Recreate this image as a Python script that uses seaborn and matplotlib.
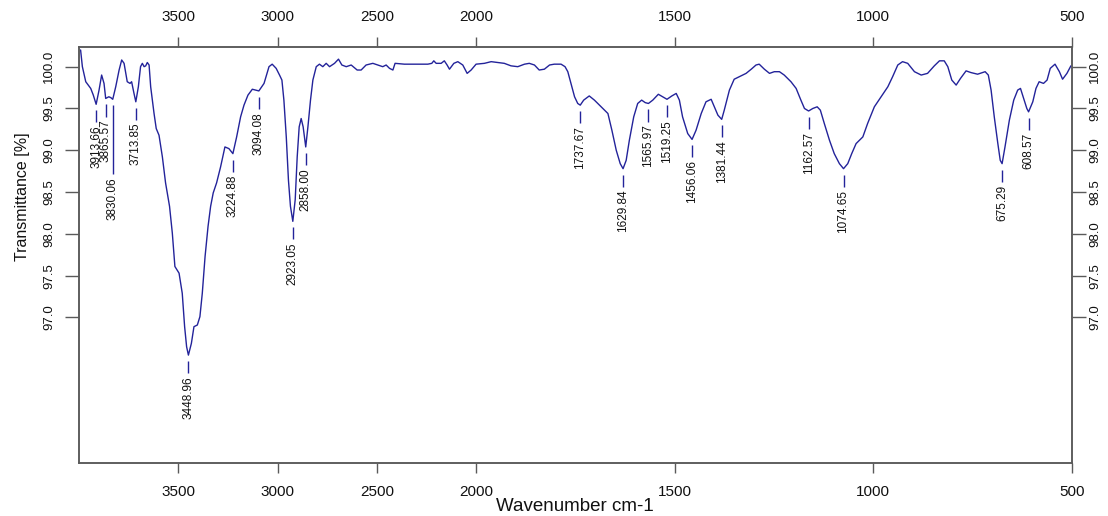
import numpy as np
import pandas as pd
import seaborn as sns
import matplotlib.pyplot as plt
from matplotlib import font_manager

# spectrum (wavenumber cm-1, transmittance %)
wavenumber = [3992, 3983, 3966, 3941, 3928, 3913.66, 3899, 3886, 3874, 3865.57,
              3850, 3840, 3830.06, 3815, 3798, 3785, 3773, 3757, 3743, 3735,
              3723, 3713.85, 3701, 3690, 3681, 3672, 3664, 3656, 3647, 3639,
              3622, 3611, 3597, 3580, 3564, 3544, 3530, 3517, 3496, 3480,
              3468, 3458, 3448.96, 3434, 3421, 3404, 3391, 3379, 3365, 3350,
              3337, 3324, 3307, 3287, 3265, 3245, 3224.88, 3206, 3186, 3169,
              3149, 3127, 3094.08, 3068, 3043, 3027, 3007, 2990, 2978, 2968,
              2956, 2945, 2935, 2923.05, 2911, 2901, 2891, 2881, 2871, 2858.00,
              2847, 2834, 2822, 2805, 2789, 2772, 2755, 2738, 2713, 2693,
              2676, 2654, 2629, 2599, 2579, 2554, 2520, 2495, 2470, 2453,
              2436, 2419, 2408, 2361, 2310, 2243, 2223, 2213, 2201, 2176,
              2160, 2146, 2134, 2112, 2092, 2067, 2045, 2025, 2000, 1979,
              1962, 1945, 1929, 1912, 1895, 1878, 1866, 1853, 1841, 1828,
              1815, 1803, 1786, 1776, 1769, 1761, 1752, 1744, 1737.67, 1729,
              1715, 1702, 1685, 1668, 1658, 1647, 1637, 1629.84, 1622, 1614,
              1603, 1593, 1583, 1574, 1565.97, 1555, 1541, 1530, 1519.25, 1507,
              1496, 1488, 1480, 1467, 1456.06, 1446, 1433, 1421, 1408, 1400,
              1391, 1381.44, 1375, 1362, 1350, 1333, 1320, 1307, 1295, 1287,
              1274, 1261, 1249, 1236, 1224, 1207, 1194, 1182, 1173, 1162.57,
              1152, 1141, 1133, 1123, 1110, 1098, 1085, 1074.65, 1064, 1054,
              1043, 1026, 1014, 997, 980, 963, 951, 938, 926, 913,
              896, 879, 863, 846, 833, 821, 812, 802, 791, 780,
              766, 754, 737, 718, 710, 703, 695, 686, 680, 675.29,
              668, 657, 646, 636, 629, 621, 613, 608.57, 598, 590,
              582, 571, 562, 554, 542, 531, 523, 512, 502]
transmittance = [100.20, 100.00, 99.82, 99.74, 99.66, 99.55, 99.72, 99.90, 99.80, 99.62,
                 99.64, 99.63, 99.61, 99.76, 99.96, 100.08, 100.04, 99.82, 99.80, 99.82,
                 99.68, 99.58, 99.76, 100.00, 100.04, 100.00, 100.01, 100.05, 100.02, 99.76,
                 99.44, 99.26, 99.18, 98.92, 98.61, 98.33, 98.01, 97.61, 97.53, 97.29,
                 96.89, 96.65, 96.55, 96.69, 96.89, 96.91, 97.01, 97.29, 97.73, 98.09,
                 98.33, 98.49, 98.61, 98.80, 99.04, 99.02, 98.96, 99.16, 99.40, 99.54,
                 99.66, 99.73, 99.71, 99.80, 100.00, 100.03, 99.98, 99.90, 99.84, 99.60,
                 99.16, 98.64, 98.33, 98.15, 98.41, 98.92, 99.28, 99.38, 99.28, 99.04,
                 99.28, 99.60, 99.84, 100.00, 100.03, 100.00, 100.04, 100.00, 100.04, 100.09,
                 100.02, 100.00, 100.02, 99.96, 99.96, 100.02, 100.04, 100.02, 100.00, 100.02,
                 99.98, 99.96, 100.04, 100.03, 100.03, 100.03, 100.04, 100.07, 100.04, 100.04,
                 100.07, 100.02, 99.97, 100.04, 100.06, 100.02, 99.92, 99.96, 100.03, 100.04,
                 100.06, 100.05, 100.04, 100.01, 100.00, 100.03, 100.04, 100.02, 99.96, 99.97,
                 100.02, 100.03, 100.03, 100.00, 99.94, 99.80, 99.64, 99.56, 99.54, 99.60,
                 99.65, 99.60, 99.52, 99.44, 99.24, 99.00, 98.84, 98.78, 98.88, 99.12,
                 99.40, 99.56, 99.60, 99.57, 99.56, 99.60, 99.67, 99.64, 99.61, 99.65,
                 99.68, 99.60, 99.40, 99.20, 99.13, 99.24, 99.44, 99.58, 99.61, 99.52,
                 99.42, 99.37, 99.48, 99.72, 99.85, 99.89, 99.92, 99.97, 100.02, 100.03,
                 99.97, 99.92, 99.94, 99.94, 99.90, 99.82, 99.74, 99.60, 99.50, 99.47,
                 99.50, 99.52, 99.48, 99.32, 99.12, 98.96, 98.84, 98.78, 98.84, 98.96,
                 99.08, 99.16, 99.32, 99.52, 99.64, 99.76, 99.88, 100.02, 100.06, 100.04,
                 99.94, 99.90, 99.92, 100.01, 100.07, 100.07, 100.00, 99.84, 99.78, 99.86,
                 99.95, 99.93, 99.91, 99.94, 99.90, 99.72, 99.40, 99.08, 98.88, 98.84,
                 99.04, 99.36, 99.60, 99.72, 99.74, 99.62, 99.50, 99.46, 99.58, 99.74,
                 99.82, 99.80, 99.84, 99.98, 100.03, 99.94, 99.85, 99.92, 100.01]

peak_wn = [3913.66, 3865.57, 3830.06, 3713.85, 3448.96, 3224.88, 3094.08, 2923.05,
           2858.00, 1737.67, 1629.84, 1565.97, 1519.25, 1456.06, 1381.44, 1162.57,
           1074.65, 675.29, 608.57]
peak_labels = ['3913.66', '3865.57', '3830.06', '3713.85', '3448.96', '3224.88',
               '3094.08', '2923.05', '2858.00', '1737.67', '1629.84', '1565.97',
               '1519.25', '1456.06', '1381.44', '1162.57', '1074.65', '675.29', '608.57']

x_ticks = [3500, 3000, 2500, 2000, 1500, 1000, 500]
y_ticks = [97.0, 97.5, 98.0, 98.5, 99.0, 99.5, 100.0]

line_color = '#23239a'
frame_color = '#5a5a5a'
text_color = '#111111'

sns.set_theme(style='white')
names = {f.name for f in font_manager.fontManager.ttflist}
narrow = 'Liberation Sans Narrow' if 'Liberation Sans Narrow' in names else 'Liberation Sans'
plt.rcParams['font.family'] = ['Liberation Sans', 'DejaVu Sans']


# x axis is compressed 2:1 above 2000 cm-1, like the instrument software does
def fwd(w):
    w = np.asarray(w, dtype=float)
    return np.where(w > 2000, 2000 + (w - 2000) / 2, w)


def inv(v):
    v = np.asarray(v, dtype=float)
    return np.where(v > 2000, 2000 + (v - 2000) * 2, v)


df = pd.DataFrame({'wavenumber': wavenumber, 'transmittance': transmittance})

fig = plt.figure(figsize=(11.08, 5.16), dpi=100)
ax = fig.add_axes([79 / 1108, 1 - 462.7 / 516, 992.7 / 1108, 416 / 516])
sns.lineplot(data=df, x='wavenumber', y='transmittance', ax=ax, color=line_color,
             lw=1.0, sort=False)
ax.set_xscale('function', functions=(fwd, inv))
ax.set_xlim(4000, 500)
ax.set_ylim(95.263, 100.239)

# peak markers
wn_sorted = np.array(wavenumber)[::-1]
tr_sorted = np.array(transmittance)[::-1]
peak_y = np.interp(peak_wn, wn_sorted, tr_sorted)
long_leaders = {'3830.06': 0.68}
for wn, y, lab in zip(peak_wn, peak_y, peak_labels):
    top = y - 0.072
    bottom = top - 0.144 - long_leaders.get(lab, 0)
    ax.vlines(wn, bottom, top, color=line_color, lw=1.0)
    ax.text(wn, bottom - 0.036, lab, rotation=90, ha='center', va='top',
            fontsize=8.5, family=narrow, color=text_color)

ax.set_xticks(x_ticks)
ax.set_xticklabels([str(t) for t in x_ticks])
ax.set_yticks(y_ticks)
ax.set_yticklabels([f'{t:.1f}' for t in y_ticks])
ax.tick_params(axis='x', bottom=True, top=True, labelbottom=True, labeltop=True,
               direction='out', length=7, width=1.0, color=frame_color, pad=9,
               labelsize=11, labelcolor=text_color)
ax.tick_params(axis='y', left=True, right=False, direction='out', length=10, width=1.0,
               color=frame_color, pad=7, labelsize=9.5, labelrotation=90,
               labelcolor=text_color)
for lab in ax.get_yticklabels():
    lab.set_family(narrow)
    lab.set_va('center')

ax2 = ax.twinx()
ax2.set_ylim(ax.get_ylim())
ax2.set_yticks(y_ticks)
ax2.set_yticklabels([f'{t:.1f}' for t in y_ticks])
ax2.tick_params(axis='y', right=True, direction='out', length=10, width=1.0,
                color=frame_color, pad=2.5, labelsize=9.5, labelrotation=90,
                labelcolor=text_color)
for lab in ax2.get_yticklabels():
    lab.set_family(narrow)
    lab.set_va('center')

for a in (ax, ax2):
    for sp in a.spines.values():
        sp.set_color(frame_color)
        sp.set_linewidth(1.1)

ax.set_xlabel('Wavenumber cm-1', fontsize=13.5, color=text_color)
ax.xaxis.set_label_coords(0.5, -0.085)
ax.set_ylabel('Transmittance [%]', fontsize=11.5, family=narrow, color=text_color)
ax.yaxis.set_label_coords(-0.049, 0.639)

fig.savefig('out.png', dpi=100)
